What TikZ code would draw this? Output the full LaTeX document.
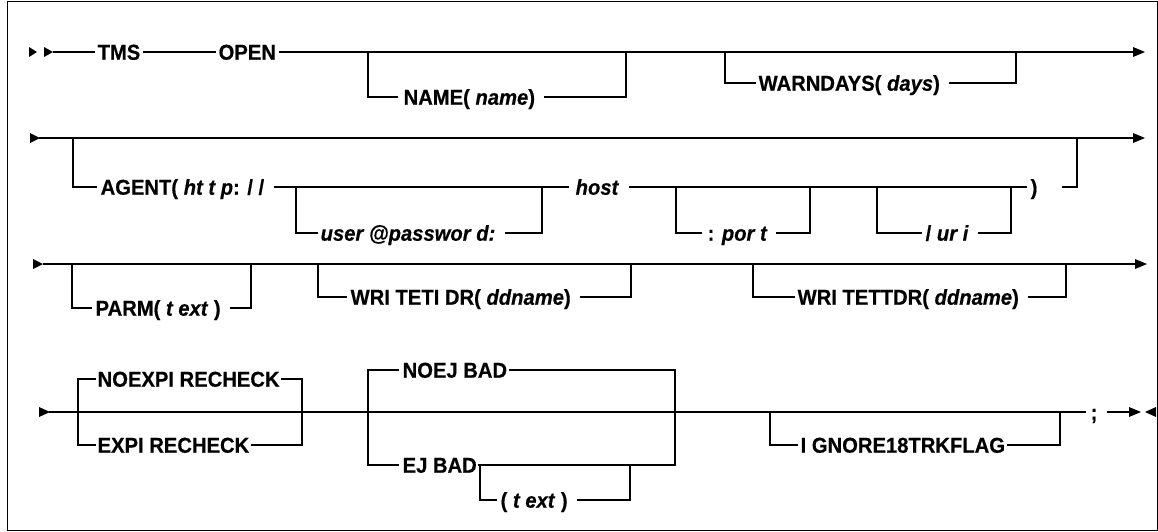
\documentclass[tikz,border=0pt]{standalone}
\usepackage{fontspec}
\setmainfont{Liberation Sans}
\newfontfamily\railfont[FakeStretch=0.94,FakeBold=0.5]{Liberation Sans}
\begin{document}
\begin{tikzpicture}[x=1pt,y=-1pt,line width=1.3pt,
  kw/.style={anchor=west,inner sep=0pt,text height=15.4pt,text depth=0pt,font=\railfont\fontsize{21.5}{24}\selectfont\bfseries},
  tri/.style={fill=black,draw=none}]
\useasboundingbox (0,0) rectangle (1158,531);
\draw[line width=1pt] (7,1) rectangle (1157,530);
% ---------- Row 1 ----------
\fill[tri] (29,47) -- (37,52) -- (29,57) -- cycle;
\fill[tri] (44,47) -- (53,52) -- (44,57) -- cycle;
\node[kw] (tms) at (97,52) {TMS};
\node[kw] (open) at (218,52) {OPEN};
\draw (53,52) -- ([xshift=-2]tms.west);
\draw ([xshift=2]tms.east) -- ([xshift=-2]open.west);
\draw ([xshift=2]open.east) -- (1134,52);
\fill[tri] (1133,47) -- (1145,52) -- (1133,57) -- cycle;
\node[kw] (name) at (403,97) {NAME( \textit{name})};
\draw (368,52) |- ([xshift=-5]name.west);
\draw ([xshift=8]name.east) -- (626,97) -- (626,52);
\node[kw] (warn) at (758,83) {WARNDAYS( \textit{days})};
\draw (725,52) |- ([xshift=-2]warn.west);
\draw ([xshift=9]warn.east) -- (1016,83) -- (1016,52);
% ---------- Row 2 ----------
\fill[tri] (30,133) -- (40,138) -- (30,143) -- cycle;
\draw (39,138) -- (1134,138);
\fill[tri] (1133,133) -- (1145,138) -- (1133,143) -- cycle;
\node[kw] (agent) at (100,187) {AGENT( \textit{ht t p}: / /};
\draw (73,138) |- ([xshift=-3]agent.west);
\node[kw] (host) at (575,187) {\textit{host}};
\draw ([xshift=9]agent.east) -- ([xshift=-6]host.west);
\node[kw] (user) at (320,233) {\textit{user @passwor d:}};
\draw (296,187) |- ([xshift=-2]user.west);
\draw ([xshift=9]user.east) -- (542,233) -- (542,187);
\node[kw] (rpar) at (1030,187) {)};
\draw ([xshift=9]host.east) -- ([xshift=-3]rpar.west);
\node[kw] (port) at (707,233) {: \textit{por t}};
\draw (676,187) |- ([xshift=-5]port.west);
\draw ([xshift=8]port.east) -- (810,233) -- (810,187);
\node[kw] (uri) at (925,233) {/ \textit{ur i}};
\draw (877,187) |- ([xshift=-3]uri.west);
\draw ([xshift=9]uri.east) -- (1011,233) -- (1011,187);
\draw ([xshift=24]rpar.east) -- (1077,187) -- (1077,138);
% ---------- Row 3 ----------
\fill[tri] (33,259) -- (43,264) -- (33,269) -- cycle;
\draw (43,264) -- (1138,264);
\fill[tri] (1135,259) -- (1147,264) -- (1135,269) -- cycle;
\node[kw] (parm) at (95,308) {PARM( \textit{t ext} )};
\draw (72,264) |- ([xshift=-3]parm.west);
\draw ([xshift=9]parm.east) -- (251,308) -- (251,264);
\node[kw] (wtidr) at (350,297) {WRI TETI DR( \textit{ddname})};
\draw (318,264) |- ([xshift=-3]wtidr.west);
\draw ([xshift=9]wtidr.east) -- (631,297) -- (631,264);
\node[kw] (wttdr) at (797,297) {WRI TETTDR( \textit{ddname})};
\draw (753,264) |- ([xshift=-2]wttdr.west);
\draw ([xshift=9]wttdr.east) -- (1066,297) -- (1066,264);
% ---------- Row 4 ----------
\fill[tri] (39,407) -- (50,412) -- (39,417) -- cycle;
\node[kw] (semi) at (1090,412) {;};
\draw (49,412) -- ([xshift=-4]semi.west);
\node[kw] (noexp) at (97,379) {NOEXPI RECHECK};
\node[kw] (exp) at (97,445) {EXPI RECHECK};
\draw ([xshift=-1]noexp.west) -| (78,445) -- ([xshift=-1]exp.west);
\draw ([xshift=1]noexp.east) -| (302,445) -- ([xshift=1]exp.east);
\node[kw] (noej) at (402,370) {NOEJ BAD};
\node[kw] (ej) at (402,465) {EJ BAD};
\draw ([xshift=-3]noej.west) -| (368,465) -- ([xshift=-3]ej.west);
\draw ([xshift=1]noej.east) -| (675,465) -- ([xshift=1]ej.east);
\node[kw] (ejtext) at (500,500) {( \textit{t ext} )};
\draw (480,465) |- ([xshift=-3]ejtext.west);
\draw ([xshift=9]ejtext.east) -- (630,500) -- (630,465);
\node[kw] (ign) at (800,445) {I GNORE18TRKFLAG};
\draw (770,412) |- ([xshift=-2]ign.west);
\draw ([xshift=1]ign.east) -- (1060,445) -- (1060,412);
\draw ([xshift=9]semi.east) -- (1130,412);
\fill[tri] (1129,407) -- (1141,412) -- (1129,417) -- cycle;
\fill[tri] (1145,412) -- (1156,407) -- (1156,417) -- cycle;
\end{tikzpicture}
\end{document}
